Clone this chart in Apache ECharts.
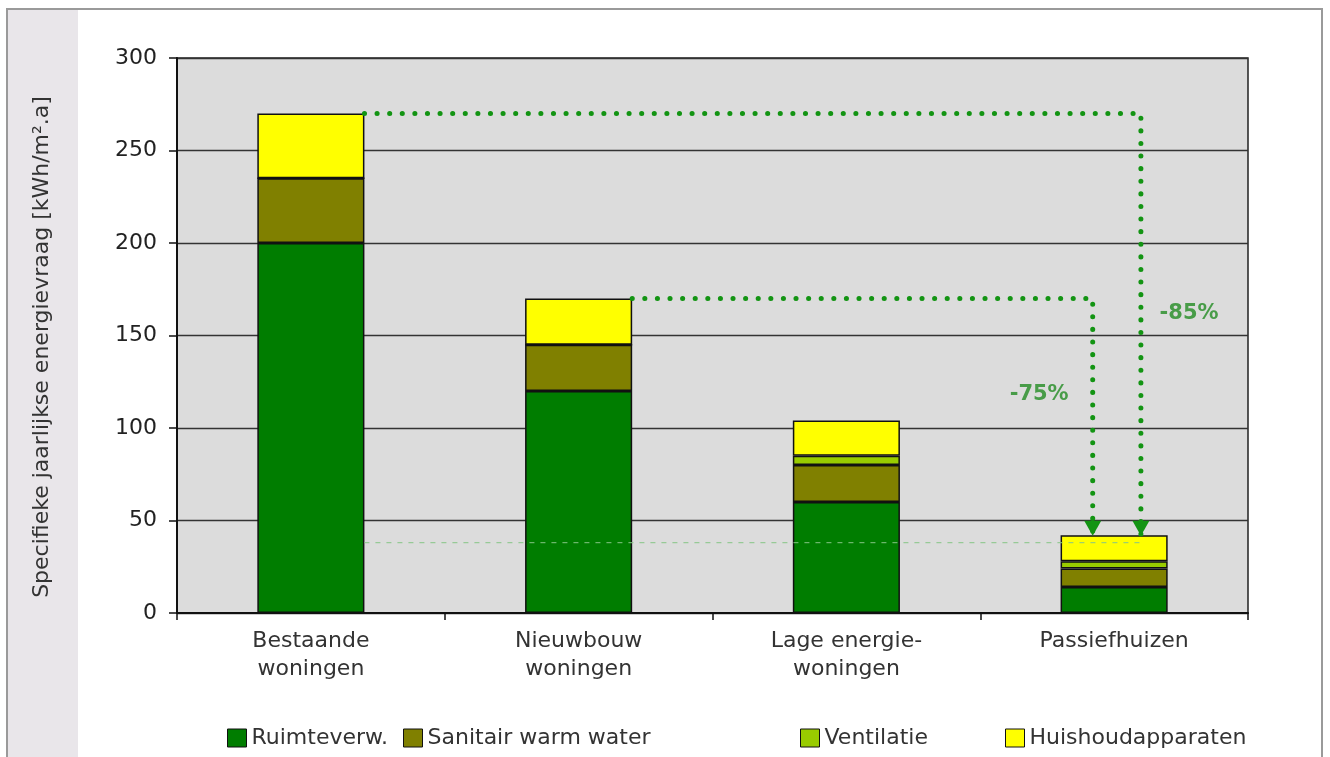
<!DOCTYPE html>
<html>
<head>
<meta charset="utf-8">
<script src="https://cdn.jsdelivr.net/npm/echarts@6/dist/echarts.min.js"></script>
<style>html,body{margin:0;padding:0;background:#fff;}#c{width:1330px;height:757px;}</style>
</head>
<body>
<div id="c"></div>
<script>
const categories = ['Bestaande\nwoningen', 'Nieuwbouw\nwoningen', 'Lage energie-\nwoningen', 'Passiefhuizen'];
const seriesNames = ['Ruimteverw.', 'Sanitair warm water', 'Ventilatie', 'Huishoudapparaten'];
const ruimteverw = [200, 120, 60, 14];
const sanitair = [35, 25, 20, 10];
const ventilatie = [0, 0, 5, 4];
const huishoud = [35, 25, 19, 14];
const yTicks = [0, 50, 100, 150, 200, 250, 300];
const yTitle = 'Specifieke jaarlijkse energievraag [kWh/m².a]';
// annotation paths (x in category units 0..4, y in kWh/m².a)
const arrow85 = [[0.70, 270], [3.60, 270], [3.60, 42]];
const arrow75 = [[1.70, 170], [3.42, 170], [3.42, 42]];
const refLine = [[0.70, 38], [3.60, 38]];
const pctLabels = [{ value: [3.22, 118], name: '-75%' }, { value: [3.78, 162], name: '-85%' }];

const colors = ['#007d00', '#808000', '#99cc00', '#ffff00'];
const values = [ruimteverw, sanitair, ventilatie, huishoud];
const font = 'DejaVu Sans';

const chart = echarts.init(document.getElementById('c'));

const barSeries = seriesNames.map((n, i) => ({
  name: n, type: 'bar', stack: 'total', xAxisIndex: 0, barWidth: '40%',
  data: values[i],
  itemStyle: { color: colors[i], borderColor: '#111', borderWidth: 1.5 },
  emphasis: { disabled: true }, z: 2
}));

function arrowData(path) {
  return path.map((p, i) => ({
    value: p,
    symbol: i === path.length - 1 ? 'path://M0,0 L10,0 L5,9 Z' : 'none',
    symbolSize: [17, 15],
    symbolOffset: [0, -7]
  }));
}
const dotStyle = { color: '#139413', width: 5, type: [0.1, 12.5], cap: 'round' };

const legendLefts = [222, 398, 795, 1000];

chart.setOption({
  animation: false,
  backgroundColor: '#fff',
  graphic: [
    { type: 'rect', z: -10, shape: { x: 7, y: 9, width: 1315, height: 760 }, style: { fill: '#fff', stroke: '#9a9a9a', lineWidth: 2 } },
    { type: 'rect', z: -9, shape: { x: 8, y: 10, width: 70, height: 760 }, style: { fill: '#e9e6ea' } },
    { type: 'text', x: 42, y: 347, rotation: Math.PI / 2,
      style: { text: yTitle, fontFamily: font, fontSize: 22, fill: '#333', align: 'center', verticalAlign: 'middle' } }
  ],
  grid: { left: 177, right: 82, top: 58, bottom: 144, show: true, backgroundColor: '#dcdcdc', borderColor: '#222', borderWidth: 1.5 },
  legend: seriesNames.map((n, i) => ({
    data: [n], left: legendLefts[i], top: 722, itemWidth: 19, itemHeight: 18, itemGap: 0,
    icon: 'rect', selectedMode: false,
    itemStyle: { borderColor: '#111', borderWidth: 1 },
    textStyle: { fontFamily: font, fontSize: 22, color: '#333' }
  })),
  xAxis: [
    {
      type: 'category', data: categories, boundaryGap: true,
      axisLine: { lineStyle: { color: '#111', width: 2 } },
      axisTick: { show: true, length: 7, lineStyle: { color: '#111', width: 1.5 } },
      axisLabel: { fontFamily: font, fontSize: 22, color: '#333', margin: 14, lineHeight: 28 }
    },
    { type: 'value', min: 0, max: 4, show: false }
  ],
  yAxis: {
    type: 'value', min: 0, max: 300, interval: 50,
    axisLine: { show: true, lineStyle: { color: '#111', width: 2 } },
    axisTick: { show: true, length: 8, lineStyle: { color: '#111', width: 1.5 } },
    axisLabel: { fontFamily: font, fontSize: 22, color: '#222', margin: 20,
      formatter: v => yTicks.includes(v) ? String(v) : '' },
    splitLine: { lineStyle: { color: '#333', width: 1.4 } }
  },
  series: [
    ...barSeries,
    { type: 'line', xAxisIndex: 1, data: refLine, symbol: 'none', silent: true, z: 3,
      lineStyle: { color: '#86c586', width: 1, type: [5, 6] } },
    { type: 'line', xAxisIndex: 1, data: arrowData(arrow85), silent: true, z: 4,
      lineStyle: dotStyle, itemStyle: { color: '#139413' } },
    { type: 'line', xAxisIndex: 1, data: arrowData(arrow75), silent: true, z: 4,
      lineStyle: dotStyle, itemStyle: { color: '#139413' } },
    { type: 'scatter', xAxisIndex: 1, data: pctLabels, symbolSize: 0, silent: true, z: 5,
      label: { show: true, position: 'inside', formatter: p => p.name,
        fontFamily: font, fontSize: 21, fontWeight: 'bold', color: '#238c23' } }
  ]
});
</script>
</body>
</html>
